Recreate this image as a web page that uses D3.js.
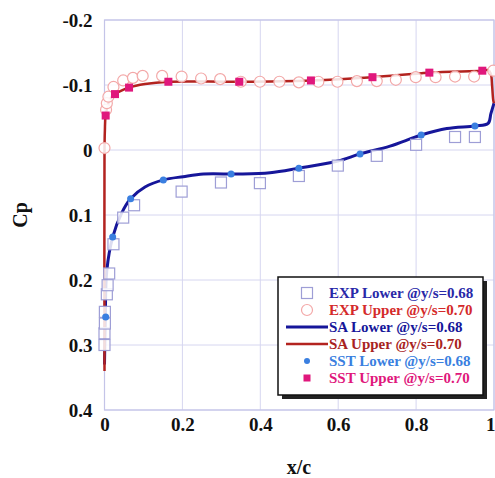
<!DOCTYPE html>
<html><head><meta charset="utf-8">
<script src="https://cdn.jsdelivr.net/npm/d3@7"></script>
<style>body{margin:0;background:#fff}svg{display:block}</style>
</head><body><svg id="c" width="495" height="478"></svg>
<script>
// ---- data ----
const xTicks = [0, 0.2, 0.4, 0.6, 0.8, 1];
const yTicks = [-0.2, -0.1, 0, 0.1, 0.2, 0.3, 0.4];
const yTickLabels = ["-0.2", "-0.1", "0", "0.1", "0.2", "0.3", "0.4"];
const xTickLabels = ["0", "0.2", "0.4", "0.6", "0.8", "1"];

const expLowerX  = [0, 0, 0.001, 0.001, 0.006, 0.008, 0.012, 0.023, 0.048, 0.076, 0.198, 0.299, 0.399, 0.499, 0.599, 0.699, 0.800, 0.900, 0.951];
const expLowerCp = [0.300, 0.282, 0.267, 0.249, 0.222, 0.208, 0.190, 0.145, 0.104, 0.085, 0.064, 0.050, 0.051, 0.040, 0.024, 0.009, -0.008, -0.020, -0.020];

const expUpperX  = [0, 0.004, 0.006, 0.010, 0.023, 0.048, 0.073, 0.098, 0.148, 0.198, 0.248, 0.297, 0.35, 0.399, 0.449, 0.499, 0.549, 0.598, 0.648, 0.699, 0.748, 0.799, 0.850, 0.900, 0.949, 0.998];
const expUpperCp = [-0.003, -0.062, -0.072, -0.082, -0.097, -0.107, -0.111, -0.114, -0.114, -0.113, -0.110, -0.109, -0.105, -0.105, -0.105, -0.104, -0.105, -0.105, -0.106, -0.106, -0.108, -0.112, -0.112, -0.113, -0.113, -0.122];

const saLowerX  = [0, 0.002, 0.006, 0.021, 0.044, 0.067, 0.104, 0.151, 0.202, 0.254, 0.325, 0.348, 0.425, 0.499, 0.599, 0.656, 0.733, 0.813, 0.879, 0.951, 0.985, 0.992, 1.0];
const saLowerCp = [0.33, 0.26, 0.185, 0.134, 0.097, 0.075, 0.057, 0.046, 0.041, 0.037, 0.037, 0.037, 0.035, 0.028, 0.017, 0.006, -0.006, -0.023, -0.033, -0.037, -0.041, -0.056, -0.072];

const saUpperX  = [0, 0, 0.001, 0.003, 0.014, 0.027, 0.063, 0.104, 0.164, 0.346, 0.530, 0.688, 0.834, 0.970, 0.985, 0.992, 0.995, 0.998, 1.0];
const saUpperCp = [0.34, 0, -0.03, -0.053, -0.078, -0.086, -0.096, -0.1015, -0.105, -0.105, -0.107, -0.112, -0.119, -0.122, -0.123, -0.117, -0.100, -0.077, -0.072];

const sstLowerX  = [0.003, 0.021, 0.067, 0.151, 0.325, 0.499, 0.656, 0.813, 0.951];
const sstLowerCp = [0.257, 0.134, 0.075, 0.046, 0.037, 0.028, 0.006, -0.023, -0.037];

const sstUpperX  = [0.003, 0.027, 0.063, 0.164, 0.346, 0.530, 0.688, 0.834, 0.970];
const sstUpperCp = [-0.053, -0.086, -0.096, -0.105, -0.105, -0.107, -0.112, -0.119, -0.122];

const legendLabels = ["EXP Lower @y/s=0.68", "EXP Upper @y/s=0.70", "SA Lower @y/s=0.68", "SA Upper @y/s=0.70", "SST Lower @y/s=0.68", "SST Upper @y/s=0.70"];

// ---- styles ----
const C = {
  grid: "#d6d6f0", frame: "#c4c4e8",
  expLower: "#9e9ed6", expUpper: "#f3a8a8",
  saLower: "#16169a", saUpper: "#b3231f",
  sstLower: "#3a7fe0", sstUpper: "#e0177c"
};
const legendColors = ["#2828a8", "#d42a2a", "#16169a", "#a82222", "#3a7fe0", "#e0177c"];
const FONT = "'Liberation Serif','Times New Roman',serif";

const svg = d3.select("#c");
const x = d3.scaleLinear().domain([0, 1]).range([104.5, 494]);
const y = d3.scaleLinear().domain([-0.2, 0.4]).range([20, 410]);

// grid
svg.append("g").selectAll("line.gx").data(xTicks).join("line")
  .attr("x1", d => x(d)).attr("x2", d => x(d)).attr("y1", y(-0.2)).attr("y2", y(0.4))
  .attr("stroke", C.grid).attr("stroke-width", 1);
svg.append("g").selectAll("line.gy").data(yTicks).join("line")
  .attr("y1", d => y(d)).attr("y2", d => y(d)).attr("x1", x(0)).attr("x2", x(1))
  .attr("stroke", C.grid).attr("stroke-width", 1);
svg.append("rect").attr("x", x(0)).attr("y", y(-0.2)).attr("width", x(1) - x(0)).attr("height", y(0.4) - y(-0.2))
  .attr("fill", "none").attr("stroke", C.frame).attr("stroke-width", 1.2);

// axes
const yAxis = d3.axisLeft(y).tickValues(yTicks).tickFormat((d, i) => yTickLabels[i]).tickSize(0).tickPadding(12);
const gy = svg.append("g").attr("transform", `translate(${x(0)},0)`).call(yAxis);
gy.select(".domain").remove();
gy.selectAll("text").attr("font-family", FONT).attr("font-weight", "bold").attr("font-size", 19).attr("fill", "#111");

const xAxis = d3.axisBottom(x).tickValues(xTicks).tickFormat((d, i) => xTickLabels[i]).tickSize(0).tickPadding(8);
const gx = svg.append("g").attr("transform", `translate(0,${y(0.4)})`).call(xAxis);
gx.select(".domain").remove();
gx.selectAll("text").attr("font-family", FONT).attr("font-weight", "bold").attr("font-size", 19).attr("fill", "#111");
gx.selectAll("text").filter(d => d === 1).attr("text-anchor", "end").attr("dx", 1);

svg.append("text").attr("transform", "translate(27,215) rotate(-90)").attr("text-anchor", "middle")
  .attr("font-family", FONT).attr("font-weight", "bold").attr("font-size", 20).attr("fill", "#111").text("Cp");
svg.append("text").attr("x", 299).attr("y", 474).attr("text-anchor", "middle")
  .attr("font-family", FONT).attr("font-weight", "bold").attr("font-size", 20).attr("fill", "#111").text("x/c");

// lines
function pts(xs, ys) { return xs.map((v, i) => [x(v), y(ys[i])]); }
const plot = svg.append("g");
plot.append("path").attr("d", d3.line().curve(d3.curveCatmullRom.alpha(0.5))(pts(saLowerX, saLowerCp)))
  .attr("fill", "none").attr("stroke", C.saLower).attr("stroke-width", 3);
plot.append("path").attr("d", d3.line().curve(d3.curveCatmullRom.alpha(0.5))(pts(saUpperX, saUpperCp)))
  .attr("fill", "none").attr("stroke", C.saUpper).attr("stroke-width", 2.5);

// EXP markers
plot.append("g").selectAll("rect").data(expLowerX).join("rect")
  .attr("x", (d, i) => x(d) - 5.5).attr("y", (d, i) => y(expLowerCp[i]) - 5.5)
  .attr("width", 11).attr("height", 11).attr("fill", "#fff").attr("fill-opacity", 0.85)
  .attr("stroke", C.expLower).attr("stroke-width", 1.2);
plot.append("g").selectAll("circle").data(expUpperX).join("circle")
  .attr("cx", d => x(d)).attr("cy", (d, i) => y(expUpperCp[i])).attr("r", 5.5)
  .attr("fill", "#fff").attr("fill-opacity", 0.85).attr("stroke", C.expUpper).attr("stroke-width", 1.2);

// SST markers
plot.append("g").selectAll("circle").data(sstLowerX).join("circle")
  .attr("cx", d => x(d)).attr("cy", (d, i) => y(sstLowerCp[i])).attr("r", 3.5).attr("fill", C.sstLower);
plot.append("g").selectAll("rect").data(sstUpperX).join("rect")
  .attr("x", d => x(d) - 4).attr("y", (d, i) => y(sstUpperCp[i]) - 4)
  .attr("width", 8).attr("height", 8).attr("fill", C.sstUpper);

// legend
const L = svg.append("g");
const lx = 278, ly = 277, lw = 205, lh = 118;
L.append("rect").attr("x", lx + 4).attr("y", ly + 4).attr("width", lw).attr("height", lh).attr("fill", "#222");
L.append("rect").attr("x", lx).attr("y", ly).attr("width", lw).attr("height", lh).attr("fill", "#fff").attr("stroke", "#111").attr("stroke-width", 1.5);
const rowY = d3.scaleLinear().domain([0, 5]).range([ly + 16, ly + 101]);
legendLabels.forEach((t, i) => {
  const cy = rowY(i), sx = 307;
  if (i === 0) L.append("rect").attr("x", sx - 5.5).attr("y", cy - 5.5).attr("width", 11).attr("height", 11).attr("fill", "#fff").attr("stroke", C.expLower).attr("stroke-width", 1.2);
  if (i === 1) L.append("circle").attr("cx", sx).attr("cy", cy).attr("r", 5.5).attr("fill", "#fff").attr("stroke", C.expUpper).attr("stroke-width", 1.2);
  if (i === 2) L.append("line").attr("x1", 286).attr("x2", 328).attr("y1", cy).attr("y2", cy).attr("stroke", C.saLower).attr("stroke-width", 3);
  if (i === 3) L.append("line").attr("x1", 286).attr("x2", 328).attr("y1", cy).attr("y2", cy).attr("stroke", C.saUpper).attr("stroke-width", 2.5);
  if (i === 4) L.append("circle").attr("cx", sx).attr("cy", cy).attr("r", 3).attr("fill", C.sstLower);
  if (i === 5) L.append("rect").attr("x", sx - 3.5).attr("y", cy - 3.5).attr("width", 7).attr("height", 7).attr("fill", C.sstUpper);
  L.append("text").attr("x", 329).attr("y", cy + 5).attr("font-family", FONT).attr("font-weight", "bold")
    .attr("font-size", 15).attr("fill", legendColors[i]).text(t);
});
</script></body></html>
